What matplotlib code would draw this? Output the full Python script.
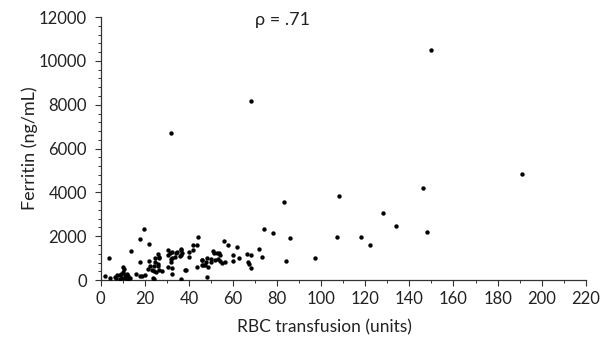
import matplotlib
matplotlib.use("Agg")
import matplotlib.pyplot as plt
from matplotlib.ticker import MultipleLocator

plt.rcParams['font.family'] = ['Lato', 'DejaVu Sans']

rbc_units = [
    1.8, 3.8, 4, 6.4, 7.5, 8.6, 9.4, 10.1, 10.6, 10.1, 11.2, 11.8, 12.4, 13.2, 7, 8.5, 9.5, 11, 12.5,
    13.9, 15.9, 17.7, 18.9, 19.7, 18, 18, 20,
    22, 21.8, 21.5, 22.2, 23.4, 24.5, 26.4, 24.2, 26, 24.2, 26.4, 23.7, 24, 26, 26.2, 26, 24.7, 25,
    30.3, 30.3, 32.4, 32.1, 30.3, 32.1, 32.4, 31.4, 31.8, 32, 34.1, 33.8, 34.7, 36.4, 35.9, 36.8,
    36.4, 38.5, 31.8, 36.2, 36.2, 38.2, 28,
    40, 40.1, 42, 42, 43.7, 44.2, 43.7, 45.8, 45.9, 46.6, 47.3, 47.9, 48, 48, 48.6, 49.8, 50.1,
    50.9, 51.4, 51.7, 52.6, 53.3, 53.6, 53.9, 54.2, 55.1, 55.8, 56.2, 57.7, 46,
    60.1, 60.1, 62, 62.9, 66.2, 66.6, 67.4, 68.2, 68.3, 68, 72, 73.2, 74.1, 78.2, 83.3, 84, 86, 97,
    107, 108, 118, 122, 128.2, 134, 146, 147.9, 149.7, 191,
]
ferritin = [
    200, 1020, 80, 150, 230, 230, 260, 590, 490, 370, 230, 280, 200, 100, 80, 60, 100, 90, 60,
    1320, 260, 200, 200, 2350, 1860, 840, 220,
    1630, 870, 490, 650, 460, 1020, 1070, 650, 650, 410, 460, 80, 30, 730, 990, 1170, 820, 380,
    1370, 1140, 1290, 990, 610, 560, 260, 1250, 840, 950, 1250, 1040, 1290, 1380, 1080, 1220,
    30, 470, 6700, 1400, 1130, 460, 420,
    1265, 1040, 1370, 1610, 1610, 1980, 580, 910, 690, 670, 690, 820, 1000, 130, 580, 820, 950,
    1340, 1230, 900, 1250, 970, 1250, 880, 1140, 790, 1800, 840, 1600, 910,
    1130, 870, 1510, 1000, 1200, 810, 730, 1140, 530, 8150, 1430, 1050, 2340, 2160, 3570, 870, 1930, 990,
    1960, 3860, 1960, 1610, 3040, 2470, 4200, 2180, 10500, 4860,
]

x_ticks = list(range(0, 221, 20))
y_ticks = list(range(0, 12001, 2000))
annotation = "ρ = .71"

fig = plt.figure(figsize=(6.07, 3.42), dpi=100)
ax = fig.add_axes([0.166, 0.181, 0.799, 0.769])

ax.scatter(rbc_units, ferritin, s=10, c='black', marker='o', linewidths=0, zorder=3)

ax.set_xlim(0, 220)
ax.set_ylim(0, 12000)
ax.set_xticks(x_ticks)
ax.set_yticks(y_ticks)
ax.xaxis.set_minor_locator(MultipleLocator(10))
ax.yaxis.set_minor_locator(MultipleLocator(400))

for s in ['top', 'right']:
    ax.spines[s].set_visible(False)
for s in ['left', 'bottom']:
    ax.spines[s].set_color('#333333')
    ax.spines[s].set_linewidth(0.9)

ax.tick_params(axis='both', which='major', direction='out', length=4, width=0.8,
               colors='#333333', labelsize=12, labelcolor='#222222')
ax.tick_params(axis='both', which='minor', direction='out', length=2.5, width=0.7, colors='#333333')
ax.tick_params(axis='x', pad=4)
ax.tick_params(axis='y', pad=6)

ax.set_xlabel("RBC transfusion (units)", fontsize=12.5, color='#222222', va='center')
ax.xaxis.set_label_coords(0.462, -0.18)
ax.set_ylabel("Ferritin (ng/mL)", fontsize=13, color='#222222', va='center')
ax.yaxis.set_label_coords(-0.146, 0.5)

ax.text(70, 11850, annotation, fontsize=13, color='#222222', ha='left', va='center')

fig.savefig("out.png", dpi=100)
